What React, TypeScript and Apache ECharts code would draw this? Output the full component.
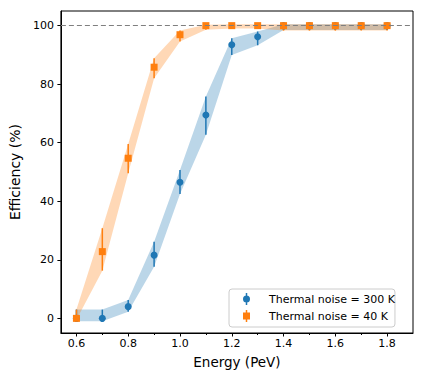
import React, { useEffect, useRef } from 'react';
import * as echarts from 'echarts';

const energies = [0.6, 0.7, 0.8, 0.9, 1.0, 1.1, 1.2, 1.3, 1.4, 1.5, 1.6, 1.7, 1.8];
const eff300 = [0, 0, 4, 21.6, 46.5, 69.5, 93.5, 96.2, 100, 100, 100, 100, 100];
const low300 = [-1, -1, 2.3, 17.6, 42.5, 62.7, 90, 93.3, 98.5, 98.5, 98.5, 98.5, 98.5];
const high300 = [3, 3, 6.3, 26.2, 50.7, 75.8, 95.7, 98, 100.5, 100.5, 100.5, 100.5, 100.5];
const eff40 = [0, 22.8, 54.7, 85.8, 96.9, 100, 100, 100, 100, 100, 100, 100, 100];
const low40 = [-0.5, 16.3, 49.6, 82, 94.6, 98.6, 99, 99, 98.3, 98.3, 98.3, 98.3, 98.3];
const high40 = [3, 30.8, 59.6, 88.9, 98.3, 100.3, 100.5, 100.5, 100.5, 100.5, 100.5, 100.5, 100.5];
const xTicks = [0.6, 0.8, 1.0, 1.2, 1.4, 1.6, 1.8];
const xMinorTicks = [0.7, 0.9, 1.1, 1.3, 1.5, 1.7];
const yTicks = [0, 20, 40, 60, 80, 100];
const name300 = 'Thermal noise = 300 K';
const name40 = 'Thermal noise = 40 K';

const BLUE = '#1f77b4';
const ORANGE = '#ff7f0e';
const FONT = 'DejaVu Sans';

const circleIcon = 'path://M2.75,0h1.5v12h-1.5z M0,6a3.5,3.5 0 1,1 7,0a3.5,3.5 0 1,1 -7,0z';
const squareIcon = 'path://M2.75,0h1.5v12h-1.5z M0,2.5h7v7h-7z';

function bandSeries(low: number[], high: number[], color: string) {
  return {
    type: 'custom',
    data: energies.map((x, i) => [x, low[i], high[i]]),
    encode: { x: 0, y: [1, 2] },
    renderItem: (params: any, api: any) => {
      if (params.dataIndex !== 0) return { type: 'group', children: [] };
      const pts: number[][] = [];
      for (let i = 0; i < energies.length; i++) pts.push(api.coord([energies[i], high[i]]));
      for (let i = energies.length - 1; i >= 0; i--) pts.push(api.coord([energies[i], low[i]]));
      return { type: 'polygon', shape: { points: pts }, style: { fill: color } };
    },
    silent: true,
    z: 1,
  };
}

function errSeries(low: number[], high: number[], color: string, extra: any = {}) {
  return {
    type: 'custom',
    data: energies.map((x, i) => [x, low[i], high[i]]),
    encode: { x: 0, y: [1, 2] },
    renderItem: (params: any, api: any) => {
      const p1 = api.coord([api.value(0), api.value(1)]);
      const p2 = api.coord([api.value(0), api.value(2)]);
      return {
        type: 'line',
        shape: { x1: p1[0], y1: p1[1], x2: p2[0], y2: p2[1] },
        style: { stroke: color, lineWidth: 1.5 },
      };
    },
    silent: true,
    z: 3,
    ...extra,
  };
}

export default function App() {
  const ref = useRef<HTMLDivElement>(null);
  useEffect(() => {
    document.body.style.margin = '0';
    if (!ref.current) return;
    const chart = echarts.init(ref.current, null, { renderer: 'svg' });
    chart.setOption({
      animation: false,
      backgroundColor: '#fff',
      textStyle: { fontFamily: FONT },
      grid: { left: 53, right: 11, top: 11, bottom: 50, show: true, borderColor: '#000', borderWidth: 1 },
      legend: {
        orient: 'vertical',
        left: 229,
        top: 289,
        padding: [3, 0, 4, 14],
        itemWidth: 7,
        itemHeight: 12,
        itemGap: 3,
        borderColor: '#cccccc',
        borderWidth: 1,
        borderRadius: 3,
        backgroundColor: '#fff',
        textStyle: { fontFamily: FONT, fontSize: 11, color: '#000', padding: [0, 0, 0, 14], lineHeight: 14 },
        data: [
          { name: name300, icon: circleIcon },
          { name: name40, icon: squareIcon },
        ],
      },
      xAxis: [
        {
          type: 'value',
          min: 0.54,
          max: 1.9,
          name: 'Energy (PeV)',
          nameLocation: 'middle',
          nameGap: 22,
          nameTextStyle: { fontFamily: FONT, fontSize: 13.5, color: '#000' },
          axisLine: { show: true, onZero: false, lineStyle: { color: '#000', width: 1 } },
          axisTick: { show: true, length: 3.5, customValues: xTicks, lineStyle: { color: '#000' } },
          axisLabel: {
            customValues: xTicks,
            formatter: (v: number) => v.toFixed(1),
            fontFamily: FONT,
            fontSize: 11,
            color: '#000',
            margin: 5,
          },
          splitLine: { show: false },
        },
        {
          type: 'value',
          min: 0.54,
          max: 1.9,
          position: 'bottom',
          axisLine: { show: false, onZero: false },
          axisTick: { show: true, length: 2, customValues: xMinorTicks, lineStyle: { color: '#000' } },
          axisLabel: { show: false },
          splitLine: { show: false },
        },
      ],
      yAxis: {
        type: 'value',
        min: -5,
        max: 105,
        name: 'Efficiency (%)',
        nameLocation: 'middle',
        nameGap: 31,
        nameTextStyle: { fontFamily: FONT, fontSize: 14, color: '#000' },
        axisLine: { show: true, onZero: false, lineStyle: { color: '#000', width: 1 } },
        axisTick: { show: true, length: 3.5, customValues: yTicks, lineStyle: { color: '#000' } },
        axisLabel: { customValues: yTicks, fontFamily: FONT, fontSize: 11, color: '#000', margin: 7 },
        splitLine: { show: false },
      },
      series: [
        bandSeries(low300, high300, 'rgba(31,119,180,0.3)'),
        bandSeries(low40, high40, 'rgba(255,127,14,0.3)'),
        errSeries(low300, high300, BLUE, {
          markLine: {
            silent: true,
            symbol: ['none', 'none'],
            label: { show: false },
            lineStyle: { color: '#7f7f7f', type: [5, 3], width: 1 },
            data: [{ yAxis: 100 }],
          },
        }),
        {
          type: 'scatter',
          name: name300,
          data: energies.map((x, i) => [x, eff300[i]]),
          symbol: 'circle',
          symbolSize: 7,
          itemStyle: { color: BLUE, opacity: 1 },
          z: 4,
        },
        errSeries(low40, high40, ORANGE),
        {
          type: 'scatter',
          name: name40,
          data: energies.map((x, i) => [x, eff40[i]]),
          symbol: 'rect',
          symbolSize: 7,
          itemStyle: { color: ORANGE, opacity: 1 },
          z: 4,
        },
      ],
    });
    return () => chart.dispose();
  }, []);
  return <div ref={ref} style={{ width: 424, height: 383 }} />;
}
